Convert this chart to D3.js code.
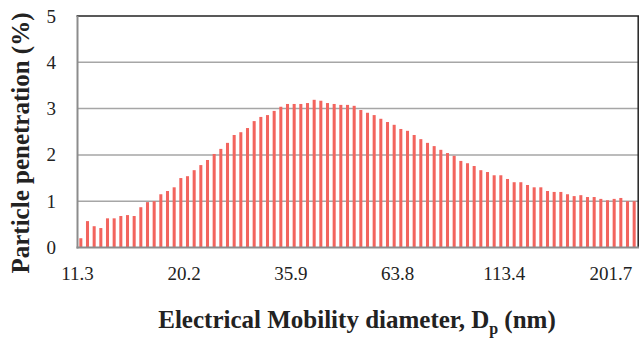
<!DOCTYPE html>
<html>
<head>
<meta charset="utf-8">
<script src="https://cdn.jsdelivr.net/npm/d3@7"></script>
<style>
  html, body { margin: 0; padding: 0; background: #fff; }
  svg { display: block; }
  text { font-family: "Liberation Serif", "Times New Roman", serif; fill: #222; }
</style>
</head>
<body>
<svg width="639" height="342"></svg>
<script>
// particle diameters (nm), SMPS channels
var diameters = [
  11.3, 11.8, 12.2, 12.6, 13.1, 13.6, 14.1, 14.6, 15.1, 15.7, 16.3, 16.8, 17.5, 18.1, 18.8, 19.5,
  20.2, 20.9, 21.7, 22.5, 23.3, 24.1, 25.0, 25.9, 26.9, 27.9, 28.9, 30.0, 31.1, 32.2, 33.4, 34.6,
  35.9, 37.2, 38.5, 40.0, 41.4, 42.9, 44.5, 46.1, 47.8, 49.6, 51.4, 53.3, 55.2, 57.3, 59.4, 61.5,
  63.8, 66.1, 68.5, 71.0, 73.7, 76.4, 79.1, 82.0, 85.1, 88.2, 91.4, 94.7, 98.2, 101.8, 105.5, 109.4,
  113.4, 117.6, 121.9, 126.3, 131.0, 135.8, 140.7, 145.9, 151.2, 156.8, 162.5, 168.5, 174.7, 181.1, 187.7, 194.6,
  201.7, 209.1, 216.7, 224.7
];

// penetration (%)
var penetration = [
  0.20, 0.57, 0.46, 0.42, 0.63, 0.63, 0.68, 0.70, 0.68, 0.87, 0.98, 1.00,
  1.15, 1.22, 1.30, 1.50, 1.54, 1.67, 1.78, 1.89, 2.02, 2.13, 2.26, 2.43,
  2.49, 2.58, 2.73, 2.82, 2.86, 2.95, 3.04, 3.10, 3.10, 3.10, 3.12, 3.19,
  3.17, 3.12, 3.10, 3.08, 3.08, 3.06, 2.97, 2.91, 2.86, 2.78, 2.71, 2.65,
  2.56, 2.52, 2.43, 2.34, 2.26, 2.19, 2.11, 2.04, 1.98, 1.87, 1.82, 1.76,
  1.67, 1.63, 1.56, 1.56, 1.48, 1.41, 1.41, 1.35, 1.30, 1.30, 1.22, 1.20,
  1.20, 1.15, 1.11, 1.13, 1.09, 1.09, 1.05, 1.02, 1.05, 1.07, 1.00, 1.00
];

var xTickLabels = ["11.3", "20.2", "35.9", "63.8", "113.4", "201.7"];
var yTicks = [0, 1, 2, 3, 4, 5];

var svg = d3.select("svg");
var plotL = 77.5, plotR = 637.5, plotT = 16, plotB = 247.5;

var x = d3.scaleBand()
    .domain(diameters.map(String))
    .range([plotL, plotR])
    .paddingInner(0.545)
    .paddingOuter(0.2725);

var y = d3.scaleLinear().domain([0, 5]).range([plotB, plotT]);

// gridlines
svg.append("g")
    .selectAll("line")
    .data(yTicks.filter(d => d > 0 && d < 5))
    .enter().append("line")
    .attr("x1", plotL).attr("x2", plotR + 1)
    .attr("y1", d => y(d)).attr("y2", d => y(d))
    .attr("stroke", "#a6a6a6")
    .attr("stroke-width", 1.5);

// bars
svg.append("g")
    .selectAll("rect")
    .data(penetration)
    .enter().append("rect")
    .attr("x", (d, i) => x(String(diameters[i])))
    .attr("width", x.bandwidth())
    .attr("y", d => y(d))
    .attr("height", d => plotB - y(d))
    .attr("fill", "#f2645e");

// frame: top and right are dark, left and bottom gray axes
svg.append("line")
    .attr("x1", plotL - 1).attr("x2", 639)
    .attr("y1", plotT).attr("y2", plotT)
    .attr("stroke", "#222").attr("stroke-width", 1.5);
svg.append("line")
    .attr("x1", 638.2).attr("x2", 638.2)
    .attr("y1", plotT).attr("y2", plotB)
    .attr("stroke", "#222").attr("stroke-width", 1.5);
svg.append("line")
    .attr("x1", plotL).attr("x2", plotL)
    .attr("y1", plotT).attr("y2", plotB + 1)
    .attr("stroke", "#8c8c8c").attr("stroke-width", 2);
svg.append("line")
    .attr("x1", plotL - 1).attr("x2", 639)
    .attr("y1", plotB).attr("y2", plotB)
    .attr("stroke", "#8c8c8c").attr("stroke-width", 2);

// y tick labels
svg.append("g")
    .selectAll("text")
    .data(yTicks)
    .enter().append("text")
    .attr("x", 56)
    .attr("y", d => y(d) + 6.5)
    .attr("text-anchor", "end")
    .style("font-size", "19px")
    .text(d => d);

// x tick labels, at the left edge of every 16th category
var offset = (x.step() - x.bandwidth()) / 2;
svg.append("g")
    .selectAll("text")
    .data(xTickLabels)
    .enter().append("text")
    .attr("x", d => x(d) - offset)
    .attr("y", 280)
    .attr("text-anchor", "middle")
    .style("font-size", "19px")
    .text(d => d);

// axis titles
var xt = svg.append("text")
    .attr("x", 357)
    .attr("y", 328)
    .attr("text-anchor", "middle")
    .style("font-size", "25px")
    .style("font-weight", "bold");
xt.append("tspan").text("Electrical Mobility diameter, D");
xt.append("tspan").attr("dy", 6).style("font-size", "16px").text("p");
xt.append("tspan").attr("dy", -6).text(" (nm)");

svg.append("text")
    .attr("transform", "translate(29,143) rotate(-90)")
    .attr("text-anchor", "middle")
    .style("font-size", "25px")
    .style("font-weight", "bold")
    .text("Particle penetration (%)");
</script>
</body>
</html>
